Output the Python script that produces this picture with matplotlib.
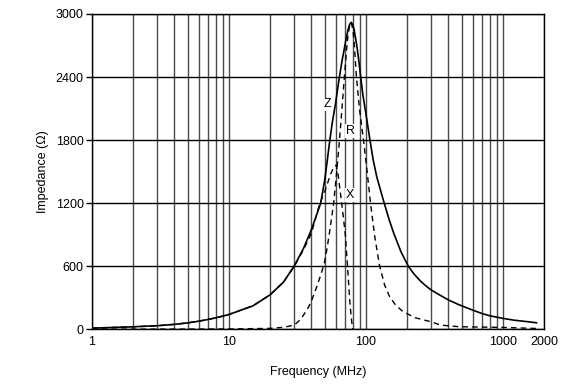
import matplotlib
matplotlib.use("Agg")
import matplotlib.pyplot as plt
from matplotlib.ticker import FixedLocator, NullLocator, NullFormatter

plt.rcParams['font.family'] = ['Liberation Sans', 'DejaVu Sans']
plt.rcParams['font.size'] = 9

# impedance curves (MHz, ohm)
z_freq = [1, 2, 3, 4, 5, 6, 7, 8, 9, 10, 15, 20, 25, 30, 35, 40, 43, 46.7,
          50, 52, 54.5, 57, 60, 62, 64, 67, 69.6, 72, 74, 76, 78, 80, 82, 84,
          86.3, 89, 91.5, 95, 100, 107, 113, 120, 128, 136, 148, 160, 180,
          204, 225, 250, 275, 300, 347, 400, 485, 600, 700, 800, 1000, 1200,
          1500, 1760]
z_vals = [12, 25, 35, 48, 62, 78, 94, 110, 126, 142, 225, 330, 450, 605,
          770, 950, 1065, 1200, 1420, 1590, 1800, 1980, 2150, 2280, 2400,
          2560, 2674, 2780, 2850, 2900, 2920, 2900, 2850, 2770, 2674, 2540,
          2400, 2230, 2050, 1800, 1610, 1450, 1320, 1200, 1040, 910, 740,
          600, 525, 460, 412, 374, 326, 280, 231, 184, 152, 130, 105, 88, 74, 63]

r_freq = [1, 5, 10, 20, 25, 30, 33, 35, 38, 40, 43.6, 46, 49.5, 52, 54.6,
          58.1, 61, 64.1, 67, 69.6, 72, 73.7, 76, 78, 80.4, 82.5, 85.2, 90,
          96, 102, 108, 116, 126, 137, 149, 165, 187, 230, 300, 350, 485,
          1000, 1760]
r_vals = [2, 3, 4, 10, 20, 41, 90, 136, 210, 270, 400, 490, 620, 770, 950,
          1200, 1480, 1800, 2120, 2400, 2640, 2780, 2890, 2920, 2850, 2680,
          2400, 2080, 1800, 1500, 1200, 880, 600, 420, 310, 230, 168, 110,
          72, 41, 25, 19, 9]

x_freq = [1, 2, 3, 4, 5, 6, 7, 8, 9, 10, 15, 20, 25, 30, 35, 40, 45.6, 50,
          55, 58, 60.7, 62.5, 64.5, 66.5, 68.5, 70.7, 73.4, 76.1, 78, 80]
x_vals = [12, 25, 35, 48, 62, 78, 94, 110, 126, 142, 225, 330, 450, 600,
          758, 914, 1183, 1310, 1470, 1540, 1563, 1480, 1340, 1200, 1060,
          900, 596, 279, 120, 0]

x_ticks = [1, 10, 100, 1000, 2000]
y_ticks = [0, 600, 1200, 1800, 2400, 3000]

fig = plt.figure(figsize=(5.68, 3.88), dpi=100)
ax = fig.add_axes([0.162, 0.151, 0.796, 0.813])
ax.set_xscale('log')
ax.set_xlim(1, 2000)
ax.set_ylim(0, 3000)

# vertical grid: 1..9, 10..90, 100..900, 1000, 2000
vlines = [m * 10 ** d for d in range(3) for m in range(1, 10)] + [1000, 2000]
for v in vlines:
    ax.axvline(v, color='#4a4a4a', lw=1.0, zorder=1)
for h in y_ticks:
    ax.axhline(h, color='black', lw=1.0, zorder=1)

ax.plot(z_freq, z_vals, color='black', lw=1.2, zorder=3)
ax.plot(r_freq, r_vals, color='black', lw=1.0, ls=(0, (4, 3)), zorder=3)
ax.plot(x_freq, x_vals, color='black', lw=1.0, ls=(0, (4, 3)), zorder=3)

box = dict(facecolor='white', edgecolor='none', pad=0.5)
ax.text(52.2, 2141, 'Z', ha='center', va='center', fontsize=9, bbox=box, zorder=4)
ax.text(76.8, 1887, 'R', ha='center', va='center', fontsize=9, bbox=box, zorder=4)
ax.text(76.8, 1278, 'X', ha='center', va='center', fontsize=9, bbox=box, zorder=4)

ax.xaxis.set_major_locator(FixedLocator(x_ticks))
ax.xaxis.set_minor_locator(NullLocator())
ax.xaxis.set_minor_formatter(NullFormatter())
ax.set_xticklabels([str(t) for t in x_ticks])
ax.set_yticks(y_ticks)
ax.set_yticklabels([str(t) for t in y_ticks])
ax.tick_params(axis='x', length=0, pad=5, labelsize=9)
ax.tick_params(axis='y', length=4, width=1.0, pad=2, labelsize=9)

for s in ax.spines.values():
    s.set_linewidth(1.0)

ax.set_xlabel('Frequency (MHz)', fontsize=9, labelpad=13)
ax.set_ylabel('Impedance (\u03a9)', fontsize=9, labelpad=5)

fig.savefig('out.png', dpi=100)
